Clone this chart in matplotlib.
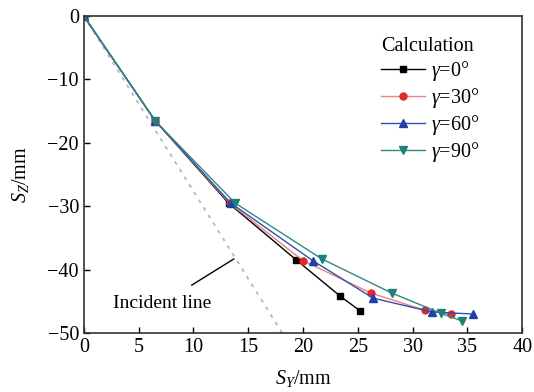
import numpy as np
import matplotlib.pyplot as plt

plt.rcParams['font.family'] = ['Liberation Serif', 'DejaVu Serif']
plt.rcParams['mathtext.fontset'] = 'custom'
plt.rcParams['mathtext.it'] = 'Liberation Serif:italic'
plt.rcParams['mathtext.rm'] = 'Liberation Serif'

sy_0 = [0, 6.5, 13.2, 19.4, 23.4, 25.2]
sz_0 = [0, -16.5, -29.5, -38.5, -44.2, -46.5]
sy_30 = [0, 6.5, 13.3, 20.0, 26.2, 31.1, 33.5]
sz_30 = [0, -16.5, -29.5, -38.6, -43.7, -46.4, -47.0]
sy_60 = [0, 6.5, 13.4, 20.9, 26.4, 31.8, 35.5]
sz_60 = [0, -16.5, -29.5, -38.6, -44.5, -46.7, -47.0]
sy_90 = [0, 6.5, 13.8, 21.7, 28.1, 32.6, 34.5]
sz_90 = [0, -16.5, -29.5, -38.3, -43.7, -46.9, -48.1]

incident_y = [0, 18.1]
incident_z = [0, -50]

fig = plt.figure(figsize=(5.34, 3.92), dpi=100)
ax = fig.add_axes([0.157, 0.1505, 0.821, 0.8085])

ax.plot(incident_y, incident_z, color='#b8b8b8', ls=(0, (2, 3)), lw=1.3)

ax.plot(sy_0, sz_0, '-s', color='black', mfc='black', ms=5, lw=1.0, label=r'$\gamma$=0°')
ax.plot(sy_30, sz_30, '-o', color='#f08080', mfc='#e02828', mec='#e02828', ms=5, lw=1.0, label=r'$\gamma$=30°')
ax.plot(sy_60, sz_60, '-^', color='#3050b0', mfc='#2040a8', mec='#2040a8', ms=6, lw=1.0, label=r'$\gamma$=60°')
ax.plot(sy_90, sz_90, '-v', color='#2a8c84', mfc='#1f8078', mec='#1f8078', ms=6, lw=1.0, label=r'$\gamma$=90°')

ax.annotate('Incident line', xy=(13.7, -38.3), xytext=(7.1, -45.4),
            ha='center', va='center', fontsize=14,
            arrowprops=dict(arrowstyle='-', color='black', lw=1.0, shrinkA=10, shrinkB=0))

ax.set_xlim(0, 40)
ax.set_ylim(-50, 0)
ax.set_xticks(np.arange(0, 41, 5))
ax.set_yticks(np.arange(-50, 1, 10))
ax.set_yticklabels(['\u221250', '\u221240', '\u221230', '\u221220', '\u221210', '0'])
ax.tick_params(direction='in', labelsize=14.5, length=4, width=1)
for s in ax.spines.values():
    s.set_linewidth(1.2)
    s.set_color('#333333')

ax.set_xlabel(r'$S_Y$/mm', fontsize=14.5, labelpad=8)
ax.set_ylabel(r'$S_Z$/mm', fontsize=14.5, labelpad=12)

leg = ax.legend(title='Calculation', loc='upper left', bbox_to_anchor=(0.677, 0.935),
                frameon=False, fontsize=14.5, title_fontsize=14.5,
                handlelength=2.2, handletextpad=0.3, labelspacing=0.15, borderaxespad=0,
                borderpad=0)
leg._legend_box.align = 'left'

fig.savefig('out.png', dpi=100)
